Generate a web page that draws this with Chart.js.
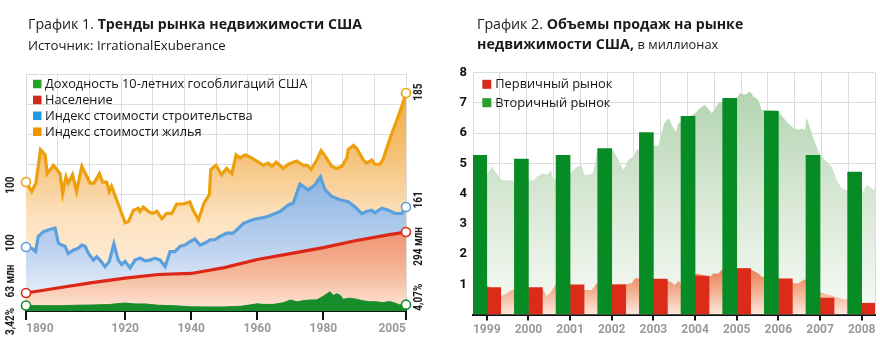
<!DOCTYPE html>
<html lang="ru">
<head>
<meta charset="utf-8">
<script src="https://cdn.jsdelivr.net/npm/chart.js@4/dist/chart.umd.min.js"></script>
<style>
  html, body { margin: 0; padding: 0; background: #fff; }
  #wrap { position: relative; width: 880px; height: 339px; overflow: hidden;
          font-family: "Open Sans", "Noto Sans", sans-serif; color: #1a1a1a; }
  canvas { position: absolute; top: 0; }
  #c1 { left: 0; }
  #c2 { left: 440px; }
  .t { position: absolute; white-space: nowrap; }
</style>
</head>
<body>
<div id="wrap">
  <canvas id="c1" width="440" height="339"></canvas>
  <canvas id="c2" width="440" height="339"></canvas>
  <div class="t" style="left:28px;top:14px;font-size:14.2px;line-height:20px">График 1. <b>Тренды рынка недвижимости США</b></div>
  <div class="t" style="left:28px;top:36px;font-size:13.2px;line-height:18px">Источник: IrrationalExuberance</div>
  <div class="t" style="left:477px;top:14px;font-size:14.2px;line-height:20px">График 2. <b>Объемы продаж на рынке<br>недвижимости США,</b> <span style="font-size:12.8px">в миллионах</span></div>
</div>
<script>
// ---------- Chart 1: long-run trends (annual readings) ----------
const tickYears1 = [1890, 1920, 1940, 1960, 1980, 2005];

const yieldYears = [1890, 1895, 1900, 1905, 1910, 1915, 1918, 1920, 1923, 1926, 1930, 1935, 1940, 1945,
  1950, 1955, 1958, 1960, 1962, 1965, 1968, 1970, 1972, 1974, 1976, 1978, 1980, 1982, 1983, 1984,
  1985, 1986, 1988, 1990, 1992, 1994, 1996, 1998, 2000, 2002, 2003, 2005];
const yieldPct = [3.42, 3.3, 3.2, 3.6, 3.8, 4.1, 4.9, 5.3, 4.6, 4.6, 3.6, 3.2, 2.4, 2.3,
  2.3, 2.8, 3.9, 4.7, 4.2, 4.3, 5.6, 7.6, 6.2, 7.2, 7.6, 7.7, 10.5, 13.9, 11.0, 12.4,
  11.4, 8.2, 9.0, 8.2, 7.0, 6.2, 6.3, 5.6, 6.5, 5.0, 4.0, 4.07];

const popYears = [1890, 1900, 1910, 1920, 1930, 1940, 1950, 1960, 1970, 1980, 1990, 2000, 2005];
const popMillions = [63, 83, 102, 119, 133, 137, 159, 190, 212, 235, 262, 284, 294];

const buildYears = [1890, 1891.7, 1892.9, 1893.7, 1895.2, 1896.7, 1898.8, 1899.8, 1900.8, 1901.8,
  1902.8, 1904.3, 1905.8, 1906.9, 1907.9, 1908.9, 1910.4, 1911.4, 1912.4, 1913.9, 1915.2, 1916.6,
  1917.9, 1919, 1920, 1921.5, 1923, 1924.5, 1926, 1927.5, 1929, 1930.6, 1932.1, 1933.6, 1935.1,
  1936.6, 1938.1, 1939.6, 1941.1, 1942.7, 1944.2, 1945.7, 1947.2, 1948.7, 1950.7, 1952.7, 1955.8,
  1958.8, 1962.9, 1966.9, 1969.4, 1970.9, 1972.9, 1975.4, 1977.5, 1979.1, 1980.5, 1982.5, 1985,
  1987.5, 1989.6, 1991.6, 1993.1, 1994.6, 1995.6, 1997.7, 1999.7, 2001.7, 2003.7, 2005];
const buildIndex = [100, 98, 93, 116, 123, 126, 129, 106, 103, 101,
  90, 95, 98, 103, 101, 90, 80, 85, 80, 70, 78, 105,
  80, 73, 78, 68, 80, 83, 79, 80, 83, 80, 70, 93, 93,
  101, 103, 108, 112, 103, 106, 111, 111, 116, 121, 121, 136,
  142, 146, 154, 164, 167, 196, 187, 195, 207, 187, 177, 172,
  169, 161, 151, 154, 156, 152, 159, 156, 151, 151, 161];

const houseYears = [1890, 1891.7, 1893, 1894.4, 1895.8, 1896.4, 1898.3, 1900.3, 1901.1, 1902.1,
  1902.8, 1904.1, 1905.3, 1906.9, 1909.4, 1910.6, 1912.2, 1913.2, 1914.4, 1915.2, 1915.9, 1920,
  1921, 1922.5, 1924, 1924.5, 1925.5, 1927, 1928.3, 1929.6, 1931.1, 1932.6, 1934.1, 1935.6, 1937.6,
  1939.6, 1940.6, 1942.2, 1943.9, 1945.5, 1945.9, 1947.5, 1949.2, 1950.7, 1952.3, 1953.6, 1954.8,
  1956.3, 1958.3, 1960.3, 1961.8, 1963.3, 1964.4, 1965.7, 1967.9, 1969.4, 1971.9, 1973.9, 1975.1,
  1976.3, 1978, 1979.3, 1980.5, 1982.5, 1984, 1985.6, 1987.1, 1987.5, 1989.1, 1990.1, 1992.1,
  1993.1, 1994.6, 1995.6, 1997.1, 1998, 2000.2, 2002.2, 2003.7, 2005];
const houseIndex = [100, 91, 99, 131, 126, 108, 116, 108, 89, 105,
  99, 107, 91, 115, 99, 99, 108, 100, 100, 91, 96, 61,
  62, 73, 75, 72, 76, 72, 70, 72, 65, 70, 70, 79, 79,
  81, 73, 64, 80, 88, 112, 116, 107, 113, 108, 126, 123,
  126, 123, 119, 116, 118, 115, 119, 113, 117, 120, 116, 116,
  112, 121, 130, 125, 115, 113, 115, 123, 131, 135, 132, 121,
  118, 121, 117, 117, 121, 142, 159, 172, 185];

// ---------- Chart 2: sales volumes, millions ----------
const saleYears = [1999, 2000, 2001, 2002, 2003, 2004, 2005, 2006, 2007, 2008];
const secondarySales = [5.27, 5.14, 5.27, 5.49, 6.02, 6.56, 7.15, 6.73, 5.27, 4.71];
const primarySales = [0.89, 0.89, 0.98, 0.98, 1.17, 1.27, 1.52, 1.18, 0.54, 0.37];

// monthly-rate background series (time in fractional years)
const existingTime = [1998.67, 1999, 1999.12, 1999.36, 1999.6, 1999.8, 2000, 2000.12, 2000.2, 2000.36, 2000.46,
  2000.54, 2000.6, 2000.8, 2001, 2001.16, 2001.28, 2001.34, 2001.48, 2001.56, 2001.66, 2001.85,
  2002, 2002.12, 2002.28, 2002.4, 2002.52, 2002.6, 2002.8, 2003, 2003.12, 2003.26, 2003.37,
  2003.44, 2003.54, 2003.6, 2003.8, 2004, 2004.12, 2004.24, 2004.4, 2004.56, 2004.68, 2004.84,
  2005, 2005.08, 2005.2, 2005.32, 2005.4, 2005.52, 2005.6, 2005.8, 2006, 2006.2, 2006.36,
  2006.48, 2006.56, 2006.64, 2006.68, 2006.85, 2007, 2007.12, 2007.28, 2007.4, 2007.52, 2007.64,
  2007.82, 2008.04, 2008.12, 2008.2, 2008.28, 2008.32];
const existingSales = [4.6, 4.6, 4.89, 4.45, 4.43, 4.4, 4.45, 4.43, 4.56, 4.67, 4.62,
  4.78, 4.45, 4.6, 4.67, 4.89, 4.95, 4.62, 4.62, 4.7, 5.5, 5.45,
  5.5, 5.23, 4.78, 5.12, 5.23, 5.45, 5.5, 5.58, 5.58, 6.33, 6.5,
  6.27, 6.05, 6.33, 6.5, 6.66, 6.83, 6.94, 6.66, 6.99, 7.05, 7.1,
  7.16, 7.32, 7.27, 7.38, 7.21, 7.1, 6.77, 6.75, 6.72, 6.38, 6.17,
  6.11, 6.15, 6.11, 6.5, 5.8, 5.28, 5.12, 4.89, 4.45, 4.18, 4.12,
  4.1, 4.07, 4.29, 4.23, 4.12, 4.2];
const newTime = [1999, 1999.36, 1999.48, 1999.6, 1999.66, 1999.85, 2000, 2000.36, 2000.44, 2000.52,
  2000.6, 2000.66, 2001, 2001.36, 2001.52, 2001.64, 2002, 2002.36, 2002.48, 2002.56, 2002.64,
  2003, 2003.4, 2003.52, 2003.6, 2003.68, 2003.85, 2004.02, 2004.36, 2004.44, 2004.56, 2004.64,
  2004.9, 2005.24, 2005.36, 2005.52, 2005.6, 2006, 2006.36, 2006.48, 2006.6, 2006.66, 2006.85,
  2007, 2007.36, 2007.48, 2007.6, 2007.68, 2008, 2008.32];
const newSales = [0.98, 0.61, 0.7, 0.81, 0.83, 0.85, 0.85, 0.81, 0.61, 0.7,
  0.87, 1.03, 0.95, 0.81, 0.81, 1.03, 1.0, 1.01, 1.03, 1.2, 1.2,
  1.15, 1.09, 0.98, 1.12, 0.98, 1.2, 1.36, 1.25, 1.36, 1.36, 1.47,
  1.52, 1.53, 1.47, 1.36, 1.25, 1.15, 1.03, 1.03, 1.14, 1.17, 0.8,
  0.74, 0.59, 0.54, 0.5, 0.52, 0.4, 0.4];

// ---------- helpers ----------
const NUMFONT = 'Roboto, "Liberation Sans", sans-serif';
const pairs = (xs, ys) => xs.map((x, i) => ({ x: x, y: ys[i] }));

function vGrad(stops) {
  return (context) => {
    const chart = context.chart;
    const a = chart.chartArea;
    if (!a) return stops[0][1];
    const g = chart.ctx.createLinearGradient(0, a.top, 0, a.bottom);
    stops.forEach(([p, c]) => g.addColorStop(p, c));
    return g;
  };
}

const endRadius = (c) => {
  const n = c.dataset.data.length;
  return (c.dataIndex === 0 || c.dataIndex === n - 1) ? 4.5 : 0;
};

function endText(ds, v) {
  const s = ds.decimals ? v.toFixed(ds.decimals).replace('.', ',') : String(v);
  return s + (ds.suffix || '');
}

// legend with square markers, drawn inside the plot
const boxLegend = {
  id: 'boxLegend',
  afterDraw(chart, args, o) {
    const ctx = chart.ctx;
    ctx.save();
    ctx.font = o.font;
    ctx.textBaseline = 'middle';
    ctx.textAlign = 'left';
    o.order.forEach((dsIndex, k) => {
      const ds = chart.data.datasets[dsIndex];
      const cy = o.top + k * o.step;
      ctx.fillStyle = ds.legendColor;
      ctx.fillRect(o.left, cy - o.box / 2, o.box, o.box);
      ctx.fillStyle = o.color;
      ctx.fillText(ds.label, o.left + o.box + o.gap, cy + 0.5);
    });
    ctx.restore();
  }
};

// rotated, condensed start / end values next to each series
const endLabels = {
  id: 'endLabels',
  afterDatasetsDraw(chart, args, o) {
    const ctx = chart.ctx;
    ctx.save();
    ctx.font = o.font;
    ctx.fillStyle = o.color;
    ctx.textAlign = 'center';
    ctx.textBaseline = 'middle';
    chart.data.datasets.forEach((ds, i) => {
      const pts = chart.getDatasetMeta(i).data;
      const ends = [[pts[0], ds.data[0].y, o.leftX, o.startShift[i]],
                    [pts[pts.length - 1], ds.data[ds.data.length - 1].y, o.rightX, o.endShift[i]]];
      ends.forEach(([p, v, x, shift]) => {
        ctx.save();
        ctx.translate(x, p.y + shift);
        ctx.rotate(-Math.PI / 2);
        ctx.scale(o.squeeze, 1);
        ctx.fillText(endText(ds, v), 0, 0);
        ctx.restore();
      });
    });
    ctx.restore();
  }
};

const gridColor = '#dcdcdc';

// ---------- Chart 1 ----------
const lineBase = {
  fill: 'start', tension: 0, clip: false,
  pointRadius: endRadius, pointHoverRadius: endRadius,
  pointBackgroundColor: '#fff', pointBorderWidth: 1.6
};

new Chart(document.getElementById('c1'), {
  type: 'line',
  data: {
    datasets: [
      Object.assign({}, lineBase, {
        label: 'Доходность 10-летних гособлигаций США', legendColor: '#25a125',
        data: pairs(yieldYears, yieldPct), yAxisID: 'yYield', decimals: 2, suffix: '%',
        borderColor: '#178c2a', borderWidth: 1, backgroundColor: '#178c2a',
        pointBorderColor: '#178c2a'
      }),
      Object.assign({}, lineBase, {
        label: 'Население', legendColor: '#cf2a1b',
        data: pairs(popYears, popMillions), yAxisID: 'yPop', suffix: ' млн',
        borderColor: '#dc2616', borderWidth: 3.2, pointBorderColor: '#dc2616',
        backgroundColor: vGrad([[0, '#ec8360'], [0.66, '#ee9270'], [0.85, '#f6bb9d'], [1, '#fde6d8']])
      }),
      Object.assign({}, lineBase, {
        label: 'Индекс стоимости строительства', legendColor: '#1c9be0',
        data: pairs(buildYears, buildIndex), yAxisID: 'yBuild',
        borderColor: '#5ba0dd', borderWidth: 3.2, pointBorderColor: '#5ba0dd',
        backgroundColor: vGrad([[0, '#6fa2dc'], [0.42, '#89b2e1'], [0.74, '#bdd3ef'], [1, '#f4f7fc']])
      }),
      Object.assign({}, lineBase, {
        label: 'Индекс стоимости жилья', legendColor: '#ef9700',
        data: pairs(houseYears, houseIndex), yAxisID: 'yHouse',
        borderColor: '#eea00c', borderWidth: 3.2, pointBorderColor: '#eea00c',
        backgroundColor: vGrad([[0, '#f0a62e'], [0.35, '#f5c27a'], [0.6, '#fce1bd'], [1, '#fff5ea']])
      })
    ]
  },
  options: {
    responsive: false, animation: false, devicePixelRatio: 1,
    events: [],
    layout: { padding: { left: 26, right: 34, top: 74, bottom: 0 } },
    plugins: {
      legend: { display: false }, tooltip: { enabled: false },
      boxLegend: { order: [0, 1, 2, 3], left: 33, top: 84, step: 15.9, box: 8.5, gap: 3.5,
                   font: '12.8px "Open Sans", "Noto Sans", sans-serif', color: '#141414' },
      endLabels: { font: 'bold 12.5px ' + NUMFONT, color: '#1e1e1e', leftX: 11, rightX: 419,
                   squeeze: 0.8, startShift: [16, -12, -4, 3], endShift: [-7.5, 14.5, -7, -1] }
    },
    scales: {
      x: {
        type: 'linear', min: 1890, max: 2005, position: 'bottom',
        afterFit: (s) => { s.height = 28; },
        afterBuildTicks: (s) => { s.ticks = tickYears1.map((v) => ({ value: v })); },
        ticks: { callback: (v) => String(v), maxRotation: 0, autoSkip: false, padding: 2, align: 'inner',
                 color: '#9a9a9a', font: { family: NUMFONT, size: 12, weight: 'bold' } },
        grid: { drawOnChartArea: false, drawTicks: true, tickLength: 9, color: '#111', lineWidth: 2 },
        border: { display: true, color: '#111', width: 2 }
      },
      gx: {
        type: 'linear', position: 'top', min: 0, max: 12,
        afterFit: (s) => { s.height = 0; },
        ticks: { display: false, stepSize: 1 },
        grid: { color: gridColor, lineWidth: 1, drawTicks: false },
        border: { display: false }
      },
      gy: {
        type: 'linear', position: 'right', min: 0, max: 7.9, reverse: true,
        afterFit: (s) => { s.width = 0; },
        ticks: { display: false, stepSize: 1 },
        grid: { color: gridColor, lineWidth: 1, drawTicks: false },
        border: { display: false }
      },
      yHouse: { display: false, min: -23.2, max: 203.2 },
      yBuild: { display: false, min: 2.4, max: 363.7 },
      yPop: { display: false, min: -5.2, max: 892.5 },
      yYield: { display: false, min: -0.78, max: 180.1 }
    }
  },
  plugins: [boxLegend, endLabels]
});

// ---------- Chart 2 ----------
new Chart(document.getElementById('c2'), {
  type: 'bar',
  data: {
    datasets: [
      { type: 'bar', label: 'Вторичный рынок', legendColor: '#2a9e2a', order: 0,
        data: pairs(saleYears, secondarySales), backgroundColor: '#078c25', barThickness: 14 },
      { type: 'bar', label: 'Первичный рынок', legendColor: '#d32c19', order: 0,
        data: pairs(saleYears, primarySales), backgroundColor: '#dc2b18', barThickness: 14 },
      { type: 'line', label: 'Первичный рынок, по месяцам', order: 1,
        data: pairs(newTime, newSales), fill: 'start', tension: 0, borderWidth: 0, pointRadius: 0,
        backgroundColor: vGrad([[0, '#e0683c'], [0.8, '#e97a4f'], [0.9, '#f3ad8e'], [1, '#fde8de']]) },
      { type: 'line', label: 'Вторичный рынок, по месяцам', order: 2,
        data: pairs(existingTime, existingSales), fill: 'start', tension: 0, borderWidth: 0, pointRadius: 0,
        backgroundColor: vGrad([[0, '#a9cea9'], [0.08, '#b3d4b2'], [0.53, '#d8e8d5'], [1, '#f8faf6']]) }
    ]
  },
  options: {
    responsive: false, animation: false, devicePixelRatio: 1,
    events: [],
    layout: { padding: { left: 0, right: 5, top: 72.7, bottom: 0 } },
    plugins: {
      legend: { display: false }, tooltip: { enabled: false },
      boxLegend: { order: [1, 0], left: 42.3, top: 84.3, step: 18.4, box: 9, gap: 4,
                   font: '12.8px "Open Sans", "Noto Sans", sans-serif', color: '#141414' }
    },
    scales: {
      x: {
        type: 'linear', min: 1998.67, max: 2008.32, position: 'bottom', offset: false,
        afterFit: (s) => { s.height = 24.5; },
        afterBuildTicks: (s) => { s.ticks = saleYears.map((v) => ({ value: v })); },
        ticks: { callback: (v) => String(v), maxRotation: 0, autoSkip: false, padding: 2,
                 color: '#9a9a9a', font: { family: NUMFONT, size: 12, weight: 'bold' } },
        grid: { offset: false, drawOnChartArea: false, drawTicks: true, tickLength: 6, color: '#111', lineWidth: 2 },
        border: { display: true, color: '#111', width: 2 }
      },
      gx: {
        type: 'linear', position: 'top', min: 0, max: 14,
        afterFit: (s) => { s.height = 0; },
        ticks: { display: false, stepSize: 1 },
        grid: { color: gridColor, lineWidth: 1, drawTicks: false },
        border: { display: false }
      },
      y: {
        type: 'linear', min: 0, max: 8, position: 'left',
        afterFit: (s) => { s.width = 33; },
        ticks: { stepSize: 1, padding: 6, color: '#111',
                 callback: (v) => (v === 0 ? '' : String(v)),
                 font: { family: NUMFONT, size: 13, weight: 'bold' } },
        grid: { color: gridColor, lineWidth: 1, drawTicks: false },
        border: { display: false }
      }
    }
  },
  plugins: [boxLegend]
});
</script>
</body>
</html>
